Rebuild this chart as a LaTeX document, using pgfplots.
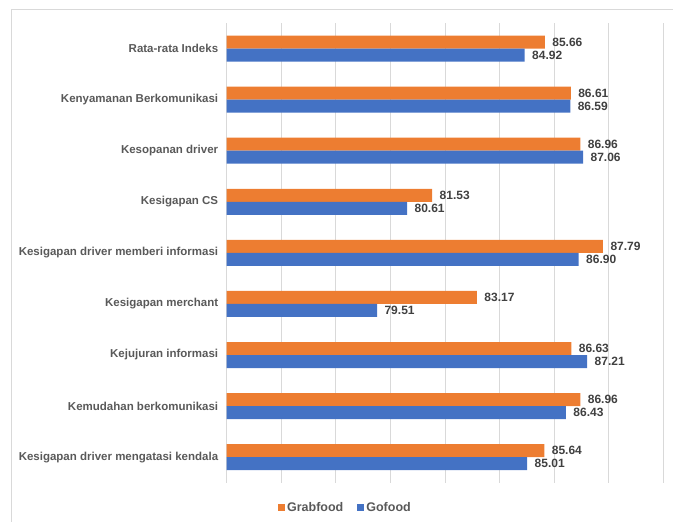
\documentclass[border=0pt]{standalone}
\usepackage{pgfplots}
\pgfplotsset{compat=1.18}
\usepackage{fontspec}
\setmainfont{Liberation Sans}
\definecolor{grab}{HTML}{ED7D31}
\definecolor{go}{HTML}{4472C4}
\definecolor{gridc}{HTML}{D9D9D9}
\definecolor{lab}{HTML}{595959}
\definecolor{val}{HTML}{404040}
\begin{document}
\begin{tikzpicture}
\useasboundingbox (0,0) rectangle (673bp,-522bp);
\draw[gridc, line width=0.8bp] (11bp,-9.3bp) -- (673bp,-9.3bp);
\draw[gridc, line width=0.8bp] (11bp,-9.3bp) -- (11bp,-522bp);
\begin{axis}[
  at={(226.7bp,-482.7bp)}, anchor=south west,
  width=436.6bp, height=459.7bp, scale only axis,
  xbar, bar width=13bp,
  xmin=74, xmax=90, ymin=-0.5, ymax=8.5,
  y dir=reverse,
  axis line style={draw=none},
  xtick={74,76,...,90}, xticklabels={},
  xmajorgrids, grid style={gridc, line width=0.8bp},
  major tick length=0pt,
  ytick={0,...,8},
  yticklabels={Rata-rata Indeks,Kenyamanan Berkomunikasi,Kesopanan driver,Kesigapan CS,Kesigapan driver memberi informasi,Kesigapan merchant,Kejujuran informasi,Kemudahan berkomunikasi,Kesigapan driver mengatasi kendala},
  yticklabel style={font=\bfseries\fontsize{11.5bp}{13bp}\selectfont, text=lab, xshift=-5bp},
  clip=false,
  nodes near coords={\pgfmathprintnumber[fixed,fixed zerofill,precision=2,assume math mode=true]{\pgfplotspointmeta}},
  nodes near coords style={font=\bfseries\fontsize{12bp}{14bp}\selectfont, text=val, anchor=west, xshift=4bp},
  legend style={at={(0.272,-0.055)}, anchor=center, legend columns=2, draw=none,
    font=\bfseries\fontsize{12.5bp}{14bp}\selectfont, text=lab,
    /tikz/every even column/.append style={column sep=12bp}},
  legend image code/.code={\fill[#1] (0bp,-3.5bp) rectangle (7bp,3.5bp);},
]
\addplot[fill=grab, draw=none, bar shift=6.5bp] coordinates {
(85.66,0) (86.61,1) (86.96,2) (81.53,3) (87.79,4) (83.17,5) (86.63,6) (86.96,7) (85.64,8)};
\addplot[fill=go, draw=none, bar shift=-6.5bp] coordinates {
(84.92,0) (86.59,1) (87.06,2) (80.61,3) (86.90,4) (79.51,5) (87.21,6) (86.43,7) (85.01,8)};
\legend{Grabfood,Gofood}
\end{axis}
\end{tikzpicture}
\end{document}
